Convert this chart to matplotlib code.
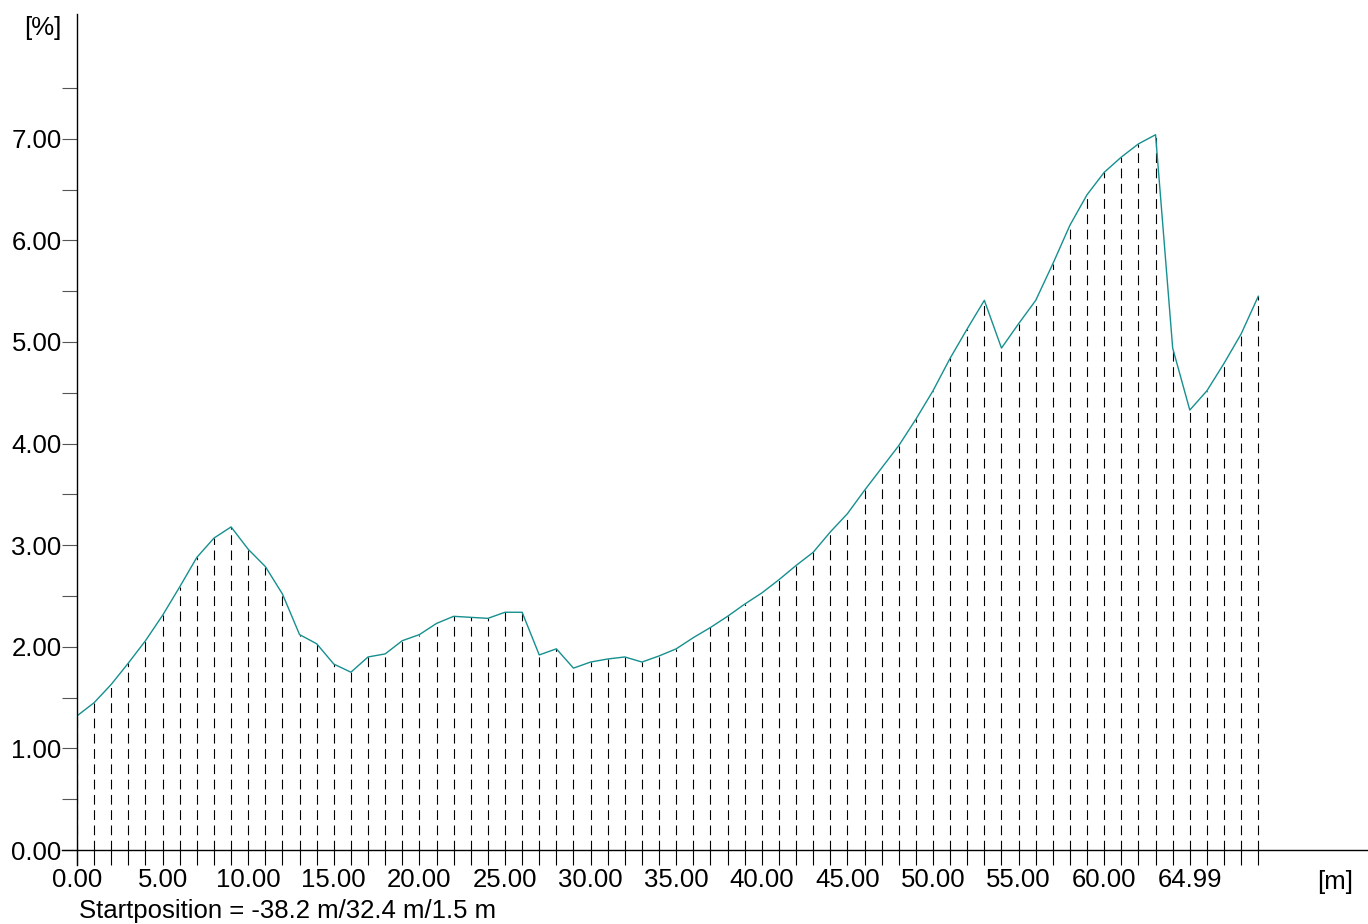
import matplotlib
matplotlib.use("Agg")
import matplotlib.pyplot as plt
from matplotlib.ticker import FixedLocator

plt.rcParams['font.family'] = ['Liberation Sans', 'DejaVu Sans']
plt.rcParams['lines.scale_dashes'] = False

# ---- data ----
distance_m = list(range(70))
slope_pct = [
    1.32, 1.45, 1.63, 1.84, 2.06, 2.31, 2.59, 2.88, 3.07, 3.18,
    2.96, 2.79, 2.52, 2.12, 2.03, 1.83, 1.75, 1.90, 1.93, 2.06,
    2.12, 2.23, 2.30, 2.29, 2.28, 2.34, 2.34, 1.92, 1.98, 1.79,
    1.85, 1.88, 1.90, 1.85, 1.91, 1.98, 2.09, 2.19, 2.30, 2.42,
    2.53, 2.66, 2.80, 2.93, 3.13, 3.31, 3.54, 3.76, 3.98, 4.24,
    4.52, 4.84, 5.13, 5.41, 4.94, 5.18, 5.41, 5.77, 6.15, 6.45,
    6.67, 6.82, 6.95, 7.04, 4.94, 4.33, 4.52, 4.79, 5.08, 5.45,
]
x_tick_pos = [0, 5, 10, 15, 20, 25, 30, 35, 40, 45, 50, 55, 60, 65]
x_tick_labels = ["0.00", "5.00", "10.00", "15.00", "20.00", "25.00", "30.00",
                 "35.00", "40.00", "45.00", "50.00", "55.00", "60.00", "64.99"]
y_tick_pos = [0, 1, 2, 3, 4, 5, 6, 7]
y_tick_labels = ["0.00", "1.00", "2.00", "3.00", "4.00", "5.00", "6.00", "7.00"]
y_minor_pos = [0.5, 1.5, 2.5, 3.5, 4.5, 5.5, 6.5, 7.5]
footer = "Startposition = -38.2 m/32.4 m/1.5 m"

W, H = 1368, 924
fig = plt.figure(figsize=(W / 100, H / 100), dpi=100)
left_px, right_px, bottom_px, top_px = 77, 1368, 850, 14
ax = fig.add_axes([left_px / W, 1 - bottom_px / H,
                   (right_px - left_px) / W, (bottom_px - top_px) / H])

px_per_m = 17.12
px_per_pct = 101.6
xmax = (right_px - left_px) / px_per_m
ymax = (bottom_px - top_px) / px_per_pct
ax.set_xlim(0, xmax)
ax.set_ylim(0, ymax)
for s in ax.spines.values():
    s.set_visible(False)

FS = 18.5
# dashed verticals
ax.vlines(distance_m, 0, slope_pct, colors='black', linewidth=0.8,
          linestyles=[(0, (7.0, 4.0))], zorder=2)
# profile line
ax.plot(distance_m, slope_pct, color='#168f8f', linewidth=1.0, zorder=3)

# axes lines
ext_y = 15 / px_per_pct
ext_x = 15 / px_per_m
ax.plot([0, 0], [-ext_y, ymax], color='black', lw=1.0, clip_on=False, zorder=4)
ax.plot([-ext_x, xmax], [0, 0], color='black', lw=1.0, clip_on=False, zorder=4)

# x ticks
ax.xaxis.set_major_locator(FixedLocator(x_tick_pos))
ax.set_xticklabels(x_tick_labels, fontsize=FS)
ax.xaxis.set_minor_locator(FixedLocator(distance_m))
ax.tick_params(axis='x', which='both', direction='out', length=11, width=0.8,
               color='black', pad=2)
# y ticks
ax.yaxis.set_major_locator(FixedLocator(y_tick_pos))
ax.set_yticklabels(y_tick_labels, fontsize=FS)
ax.yaxis.set_minor_locator(FixedLocator(y_minor_pos))
ax.tick_params(axis='y', which='both', direction='out', length=11, width=0.8,
               color='#555555', pad=0)

fig.text(62 / W, 1 - 28 / H, "[%]", fontsize=FS, ha='right', va='center')
fig.text(1353 / W, 1 - 882 / H, "[m]", fontsize=FS, ha='right', va='center')
fig.text(79 / W, 1 - 911 / H, footer, fontsize=FS, ha='left', va='center')

fig.savefig("out.png", dpi=100)
